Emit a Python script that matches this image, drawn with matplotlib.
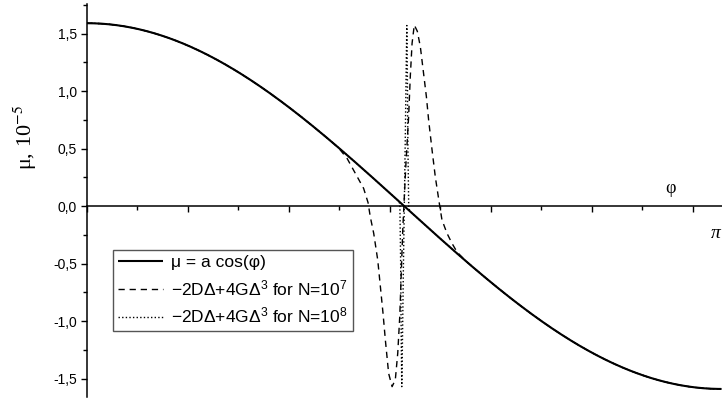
import numpy as np
import matplotlib
matplotlib.use("Agg")
import matplotlib.pyplot as plt
from matplotlib.ticker import MultipleLocator, FuncFormatter, NullFormatter

plt.rcParams['font.family'] = ['Liberation Sans', 'DejaVu Sans']
plt.rcParams['mathtext.fontset'] = 'custom'
plt.rcParams['mathtext.rm'] = 'Liberation Sans'
plt.rcParams['mathtext.it'] = 'Liberation Sans:italic'

# amplitude of mu = a cos(phi), in units of 1e-5
a = 1.59

# -2DΔ+4GΔ^3, N = 1e7: values inside the region where it leaves the cosine
phi_n7 = [1.245, 1.288, 1.329, 1.370, 1.392, 1.403, 1.420, 1.440, 1.453, 1.466,
          1.478, 1.494, 1.511, 1.527, 1.539, 1.549, 1.564, 1.579, 1.593, 1.601,
          1.610, 1.621, 1.636, 1.651, 1.667, 1.681, 1.692, 1.709, 1.725, 1.745,
          1.758, 1.783, 1.808, 1.833, 1.874]
mu_n7 = [0.508, 0.415, 0.284, 0.154, 0.030, -0.093, -0.237, -0.470, -0.700, -0.930,
         -1.170, -1.455, -1.570, -1.510, -1.280, -0.960, -0.200, 0.350, 0.780, 1.120,
         1.415, 1.574, 1.520, 1.385, 1.154, 0.950, 0.748, 0.487, 0.255, 0.023,
         -0.120, -0.237, -0.325, -0.400, -0.475]

# -2DΔ+4GΔ^3, N = 1e8: a much narrower excursion around phi = pi/2
phi_n8 = [1.5415, 1.5495, 1.5535, 1.5565, 1.5590, 1.5615, 1.5665, 1.5715, 1.5765,
          1.5815, 1.5840, 1.5865, 1.5895, 1.5935, 1.6015]
mu_n8 = [0.047, 0.020, -0.500, -1.200, -1.570, -1.300, -0.600, 0.000, 0.600,
         1.300, 1.570, 1.200, 0.500, -0.020, -0.048]

legend_labels = [r'μ = a cos(φ)',
                 r'$-$2DΔ+4GΔ$^{3}$ for N=10$^{7}$',
                 r'$-$2DΔ+4GΔ$^{3}$ for N=10$^{8}$']

phi = np.linspace(0, np.pi, 600)
mu = a * np.cos(phi)


def joined(p_dev, m_dev):
    """Cosine outside the excursion, read values inside it."""
    left = phi < p_dev[0]
    right = phi > p_dev[-1]
    p = np.concatenate([phi[left], p_dev, phi[right]])
    m = np.concatenate([mu[left], m_dev, mu[right]])
    return p, m


W, H = 722, 412
fig = plt.figure(figsize=(W / 100, H / 100), dpi=100)
ax = fig.add_axes([87 / W, 15 / H, 635 / W, 393 / H])

p7, m7 = joined(phi_n7, mu_n7)
p8, m8 = joined(phi_n8, mu_n8)

l0, = ax.plot(phi, mu, color='black', lw=1.5, solid_capstyle='butt')
l1, = ax.plot(p7, m7, color='black', lw=1.0, dashes=(4.5, 3.5))
l2, = ax.plot(p8, m8, color='black', lw=1.0, dashes=(1.0, 1.6))

ax.set_xlim(0, 3.145)
ax.set_ylim(-1.66, 1.757)

for s in ('top', 'right'):
    ax.spines[s].set_visible(False)
ax.spines['left'].set_position(('data', 0))
ax.spines['bottom'].set_position(('data', 0))
ax.spines['left'].set_linewidth(1.1)
ax.spines['bottom'].set_linewidth(1.1)

ax.xaxis.set_major_locator(MultipleLocator(0.5))
ax.xaxis.set_minor_locator(MultipleLocator(0.25))
ax.xaxis.set_major_formatter(NullFormatter())
ax.yaxis.set_major_locator(MultipleLocator(0.5))
ax.yaxis.set_minor_locator(MultipleLocator(0.25))
ax.yaxis.set_major_formatter(FuncFormatter(lambda v, _: f"{v:.1f}".replace('.', ',')))

ax.tick_params(axis='both', which='major', direction='out', length=4.3, width=1.0,
               labelsize=10, pad=3)
ax.tick_params(axis='both', which='minor', direction='out', length=2.6, width=1.0)

ylab = ax.set_ylabel(r'μ, 10$^{-5}$', family='Liberation Serif', fontsize=16)
ylab.set_math_fontfamily('stix')
ax.yaxis.set_label_coords(-0.075, 0.66)

ax.text(2.888, 0.157, 'φ', family='Liberation Serif', fontsize=13,
        ha='center', va='center')
ax.text(3.138, -0.235, 'π', family='Liberation Serif', fontsize=14, style='italic',
        ha='right', va='center', clip_on=False)

leg = ax.legend([l0, l1, l2], legend_labels, loc='upper left',
                bbox_to_anchor=(113 / W, 1 - 250 / H), bbox_transform=fig.transFigure,
                borderaxespad=0, fontsize=12.5, handlelength=2.6, handletextpad=0.45,
                labelspacing=0.45, borderpad=0.3, fancybox=False, framealpha=1,
                edgecolor='#555555')
leg.get_frame().set_linewidth(1.0)

fig.savefig('out.png', dpi=100)
